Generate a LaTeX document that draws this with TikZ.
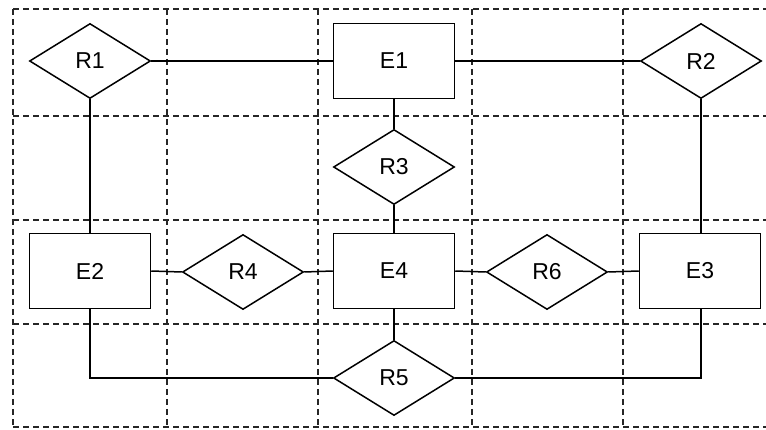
\documentclass[tikz,border=0pt]{standalone}
\usepackage{fontspec}
\setmainfont{Liberation Sans}
\usetikzlibrary{shapes.geometric}
\begin{document}
\begin{tikzpicture}[x=1pt,y=-1pt,
  grid/.style={line width=1.3pt,dash pattern=on 6pt off 4pt,black!85},
  ent/.style={draw,line width=1.5pt,minimum width=121pt,minimum height=75pt,inner sep=0pt,font=\fontsize{23}{23}\selectfont},
  rel/.style={draw,shape=diamond,aspect=1.61,line width=1.5pt,minimum width=121pt,minimum height=75pt,inner sep=0pt,font=\fontsize{23}{23}\selectfont},
  conn/.style={line width=1.5pt}]
\useasboundingbox (0,0) rectangle (766,430);
\fill[white] (0,0) rectangle (766,430);
% grid
\foreach \x in {13,167,318,472,623} \draw[grid] (\x,9) -- (\x,427);
\foreach \y in {9,116,220,324,427} \draw[grid] (13,\y) -- (766,\y);
% entities
\node[ent] (E1) at (394,61) {E1};
\node[ent] (E2) at (90,271) {E2};
\node[ent] (E4) at (394,271) {E4};
\node[ent] (E3) at (700,271) {E3};
% relationships
\node[rel] (R1) at (90,61) {R1};
\node[rel] (R2) at (701,61) {R2};
\node[rel] (R3) at (394,167) {R3};
\node[rel] (R4) at (243,272) {R4};
\node[rel] (R6) at (547,272) {R6};
\node[rel] (R5) at (394,378) {R5};
% connectors
\draw[conn] (R1.east) -- (E1.west);
\draw[conn] (E1.east) -- (R2.west);
\draw[conn] (R1.south) -- (E2.north);
\draw[conn] (R2.south) -- (R2.south |- E3.north);
\draw[conn] (E1.south) -- (R3.north);
\draw[conn] (R3.south) -- (E4.north);
\draw[conn] (E2.east) -- (R4.west);
\draw[conn] (R4.east) -- (E4.west);
\draw[conn] (E4.east) -- (R6.west);
\draw[conn] (R6.east) -- (E3.west);
\draw[conn] (E4.south) -- (R5.north);
\draw[conn] (E2.south) |- (R5.west);
\draw[conn] (R2.south |- E3.south) |- (R5.east);
\end{tikzpicture}
\end{document}
